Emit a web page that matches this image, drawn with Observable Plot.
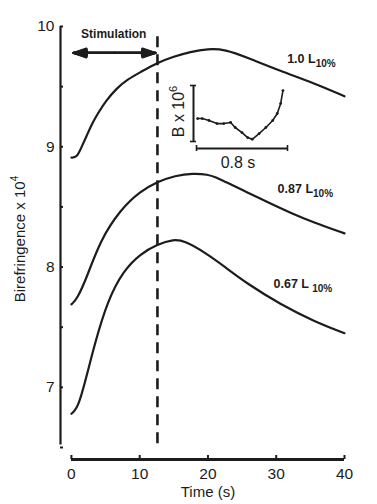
<!DOCTYPE html>
<html>
<head>
<meta charset="utf-8">
<script src="https://cdn.jsdelivr.net/npm/d3@7"></script>
<script src="https://cdn.jsdelivr.net/npm/@observablehq/plot@0.6"></script>
<style>
  html, body { margin: 0; padding: 0; background: #fff; }
  #chart { position: relative; width: 377px; height: 504px; font-family: "Liberation Sans", Arial, sans-serif; }
  #chart svg { position: absolute; }
</style>
</head>
<body>
<div id="chart"></div>
<script>
// ---- data ----
const time1 = [0, 0.8, 1.5, 2.3, 3.1, 3.8, 5, 6.7, 8.2, 10.1, 12.6, 15, 17.4, 20, 22.5, 25.8, 30.6, 35.5, 40];
const bire1 = [8.91, 8.91, 9.0, 9.1, 9.2, 9.27, 9.38, 9.49, 9.56, 9.62, 9.70, 9.75, 9.79, 9.815, 9.81, 9.74, 9.63, 9.53, 9.42];
const time2 = [0, 0.8, 2.3, 4.2, 7.2, 10.1, 12.6, 15.2, 17.8, 20, 21.2, 22.3, 25.8, 28.7, 32.1, 35.5, 40];
const bire2 = [7.69, 7.73, 7.92, 8.22, 8.48, 8.63, 8.71, 8.76, 8.78, 8.77, 8.745, 8.715, 8.62, 8.54, 8.45, 8.37, 8.28];
const time3 = [0, 1, 2.3, 3.5, 5.3, 7.6, 10.1, 12.6, 15, 16.5, 19.9, 22.5, 25.8, 30.6, 35.5, 40];
const bire3 = [6.78, 6.83, 7.11, 7.38, 7.72, 7.97, 8.11, 8.19, 8.23, 8.22, 8.11, 8.0, 7.86, 7.69, 7.55, 7.45];

const seriesLabels = ["1.0 L", "0.87 L", "0.67 L "];
const labelSub = "10%";
const labelTime = [31.6, 30.2, 29.6];
const labelBire = [9.73, 8.65, 7.86];

const xTicks = [0, 10, 20, 30, 40];
const yTicks = [6.5, 7, 7.5, 8, 8.5, 9, 9.5, 10];
const yLabelTicks = [7, 8, 9, 10];
const xDomain = [-1.6, 40];
const yDomain = [6.4, 10];
const yAxisRange = [6.52, 10];

const stimEnd = 12.6;           // end of stimulation (s)
const stimArrow = [0.3, 12.3];  // double arrow extent (s)
const stimArrowLevel = 9.78;
const stimLabel = "Stimulation";
const stimLabelPos = [6.2, 9.94];
const dashRange = [6.53, 9.97];

// inset (B x 10^6 vs time)
const insetTime = [0.01, 0.05, 0.11, 0.18, 0.24, 0.30, 0.34, 0.40, 0.45, 0.49, 0.55, 0.61, 0.67, 0.71, 0.74, 0.76];
const insetB    = [0.41, 0.41, 0.375, 0.32, 0.32, 0.34, 0.25, 0.16, 0.07, 0.04, 0.14, 0.25, 0.375, 0.5, 0.68, 0.91];
const insetScaleX = [0, 0.8];
const insetScaleY = [0, 1];
const insetXLabel = "0.8 s";
const insetYLabel = "B x 10";
const insetYSup = "6";

const xLabel = "Time (s)";
const yLabel = "Birefringence x 10";
const ySup = "4";

const ink = "#1c1c1c";
const font = "'Liberation Sans', Arial, sans-serif";

const toRows = (t, v, s) => t.map((d, i) => ({t: d, v: v[i], s}));
const curves = [...toRows(time1, bire1, 0), ...toRows(time2, bire2, 1), ...toRows(time3, bire3, 2)];
const labels = seriesLabels.map((s, i) => ({s, t: labelTime[i], v: labelBire[i]}));

const headAngles = [8, 16, 24, 32, 38];
const mid = (stimArrow[0] + stimArrow[1]) / 2;

const main = Plot.plot({
  width: 377, height: 504,
  marginLeft: 60, marginRight: 33, marginTop: 26, marginBottom: 45,
  x: {domain: xDomain},
  y: {domain: yDomain},
  style: {fontFamily: font, color: ink, background: "white"},
  marks: [
    // y axis
    Plot.ruleX([xDomain[0]], {y1: yAxisRange[0], y2: yAxisRange[1], stroke: ink, strokeWidth: 2.2}),
    Plot.axisY({ticks: yTicks, tickSize: -3, tickPadding: 9, tickFormat: d => yLabelTicks.includes(d) ? d : "", fontSize: 15.5, label: null, stroke: ink, strokeWidth: 2}),
    // x axis
    Plot.ruleY([yDomain[0]], {x1: xTicks[0], x2: xTicks[xTicks.length - 1], stroke: ink, strokeWidth: 3}),
    Plot.axisX({ticks: xTicks, tickSize: -4, tickPadding: 12, fontSize: 15.5, label: null, stroke: ink, strokeWidth: 2}),
    Plot.text([xLabel], {frameAnchor: "bottom", x: 20, dy: 37, fontSize: 15, fill: ink}),
    Plot.text([yLabel], {frameAnchor: "left", textAnchor: "middle", dx: -40, dy: -4, rotate: -90, fontSize: 15, fill: ink, className: "ylab"}),
    // stimulation
    Plot.ruleX([stimEnd], {y1: dashRange[0], y2: dashRange[1], stroke: ink, strokeWidth: 2.6, strokeDasharray: "11,7"}),
    ...headAngles.map(a => Plot.arrow(stimArrow, {x1: () => mid, x2: d => d, y1: stimArrowLevel, y2: stimArrowLevel, stroke: ink, strokeWidth: 2.2, headLength: 21, headAngle: a})),
    Plot.text([stimLabel], {x: stimLabelPos[0], y: stimLabelPos[1], fontSize: 12, fontWeight: "bold", fill: ink}),
    // curves
    Plot.line(curves, {x: "t", y: "v", z: "s", curve: "basis", stroke: ink, strokeWidth: 2.2}),
    Plot.text(labels, {x: "t", y: "v", text: "s", textAnchor: "start", fontSize: 12.5, fontWeight: "bold", fill: ink, className: "clab"})
  ]
});

const insetRows = insetTime.map((t, i) => ({t, b: insetB[i]}));
const inset = Plot.plot({
  width: 130, height: 105,
  marginLeft: 26, marginRight: 13, marginTop: 15, marginBottom: 34,
  x: {domain: insetScaleX, axis: null},
  y: {domain: insetScaleY, axis: null},
  style: {fontFamily: font, color: ink, background: "transparent", overflow: "visible"},
  marks: [
    // vertical scale bar
    Plot.ruleX([insetScaleX[0]], {y1: insetScaleY[0], y2: insetScaleY[1], dx: -3, stroke: ink, strokeWidth: 2}),
    Plot.ruleY(insetScaleY, {x1: insetScaleX[0], x2: insetScaleX[0], dx: -3, insetLeft: -3, insetRight: -3, stroke: ink, strokeWidth: 1.6}),
    // horizontal scale bar
    Plot.ruleY([insetScaleY[0]], {x1: insetScaleX[0], x2: insetScaleX[1], dy: 7, stroke: ink, strokeWidth: 2}),
    Plot.ruleX(insetScaleX, {y1: insetScaleY[0], y2: insetScaleY[0], dy: 7, insetTop: -3, insetBottom: -3, stroke: ink, strokeWidth: 1.6}),
    Plot.text([insetXLabel], {x: (insetScaleX[0] + insetScaleX[1]) / 2, y: insetScaleY[0], dy: 21, dx: -4, fontSize: 16, fill: ink}),
    Plot.text([insetYLabel], {x: insetScaleX[0], y: (insetScaleY[0] + insetScaleY[1]) / 2, dx: -18, dy: -2, rotate: -90, fontSize: 16, fill: ink, className: "blab"}),
    // trace
    Plot.line(insetRows, {x: "t", y: "b", stroke: ink, strokeWidth: 1.6}),
    Plot.dot(insetRows, {x: "t", y: "b", r: 1.4, fill: ink})
  ]
});

main.style.left = "0px"; main.style.top = "0px";
inset.style.left = "170px"; inset.style.top = "70px";
const host = document.getElementById("chart");
host.appendChild(main);
host.appendChild(inset);

// superscripts / subscripts as real tspans
d3.select(main).selectAll("g.ylab text").append("tspan").attr("dy", -7).attr("font-size", 10).text(ySup);
d3.select(main).selectAll("g.clab text").append("tspan").attr("dy", 4).attr("font-size", 10).text(labelSub);
d3.select(inset).selectAll("g.blab text").append("tspan").attr("dy", -7).attr("font-size", 11).text(insetYSup);
</script>
</body>
</html>
